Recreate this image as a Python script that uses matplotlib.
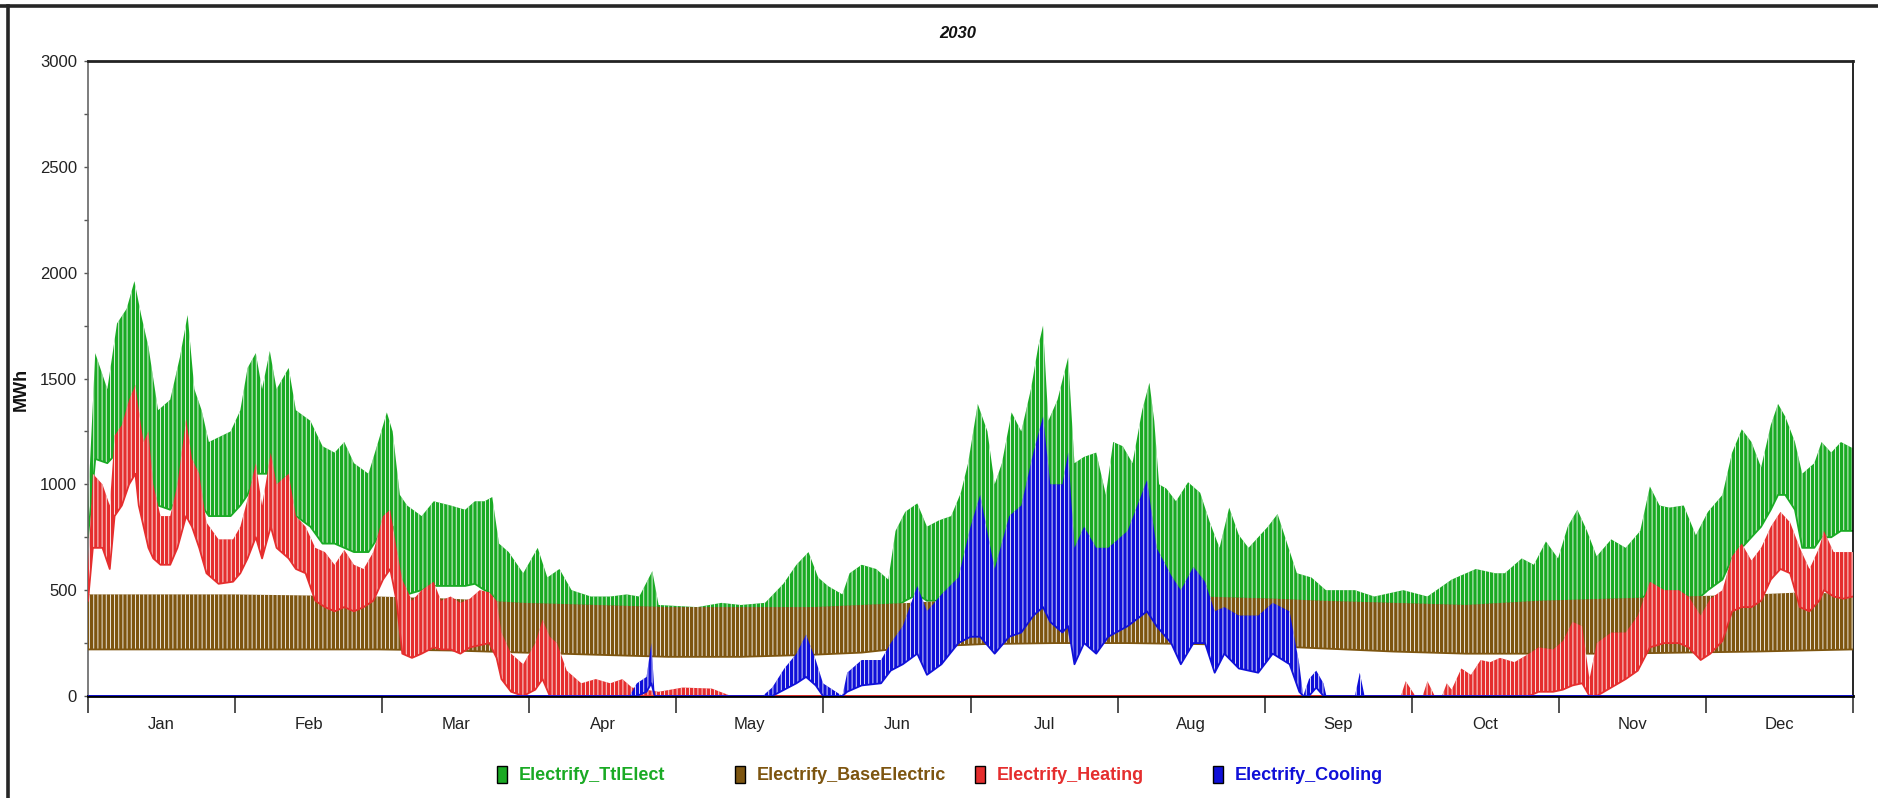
import numpy as np
import matplotlib.pyplot as plt
from matplotlib.patches import Rectangle
from matplotlib.lines import Line2D

# hourly load profile for 2030, read off the chart as daily high / low envelopes
# (day of year, daily high, daily low) for every series

months = ['Jan', 'Feb', 'Mar', 'Apr', 'May', 'Jun', 'Jul', 'Aug', 'Sep', 'Oct', 'Nov', 'Dec']
labels = ['Electrify_TtlElect', 'Electrify_BaseElectric', 'Electrify_Heating', 'Electrify_Cooling']

# Electrify_TtlElect
ttl_day = [0, 1.5, 4, 6, 8, 9.6, 11, 12.5, 14.5, 17, 19, 20.6, 22, 23.5, 25, 29.5, 31.5, 33, 34.7, 36,
           37.6, 39, 41.5, 43, 46, 48.5, 51, 53, 55, 58, 60, 61.8, 63, 64.5, 66, 69, 71.5, 75, 78, 80,
           82, 83.6, 85, 87, 90, 93, 95, 97.5, 100, 104, 108, 111.4, 114, 116.7, 118, 126, 131, 135, 140, 143.8,
           146.5, 149, 151, 153, 156, 157.5, 160, 163, 165.5, 167, 169, 171.5, 173.5, 176, 178.5, 180.5, 182, 184, 186, 187.5,
           189, 191, 193, 195, 196.5, 197.5, 198.6, 200.5, 202.7, 204, 206, 208.5, 210.5, 212, 214, 216, 218, 219.5, 220.5, 221.5,
           223, 225, 227.5, 230, 232, 234, 236, 238, 240, 242, 244, 246, 248, 250, 253, 256, 262, 266, 272, 277,
           282, 287, 291, 293, 296.5, 299, 301.5, 304, 306, 308, 310, 312, 315, 318, 321, 323, 325, 327, 330, 332.5,
           335, 338, 340, 342, 344, 346, 348, 349.5, 351, 353, 354.5, 357, 358.5, 360.5, 362.5, 365]
ttl_hi = [900, 1620, 1450, 1760, 1830, 1960, 1800, 1650, 1350, 1400, 1600, 1800, 1450, 1350, 1200, 1250, 1350, 1550, 1620, 1450,
          1630, 1450, 1550, 1350, 1300, 1180, 1150, 1200, 1100, 1050, 1200, 1340, 1250, 950, 900, 850, 920, 900, 880, 920,
          920, 940, 720, 680, 580, 700, 560, 600, 500, 470, 470, 480, 470, 590, 430, 420, 440, 430, 440, 530,
          620, 680, 560, 520, 480, 580, 620, 600, 550, 780, 870, 910, 800, 830, 850, 960, 1100, 1380, 1250, 1000,
          1100, 1340, 1250, 1450, 1650, 1750, 1300, 1400, 1600, 1100, 1130, 1150, 950, 1200, 1180, 1100, 1350, 1480, 1300, 1000,
          980, 920, 1010, 960, 820, 700, 890, 760, 700, 750, 800, 860, 720, 580, 560, 500, 500, 470, 500, 470,
          550, 600, 580, 580, 650, 620, 730, 650, 800, 880, 780, 660, 740, 700, 780, 990, 900, 890, 900, 760,
          870, 950, 1150, 1260, 1200, 1080, 1280, 1380, 1320, 1200, 1050, 1100, 1200, 1150, 1200, 1170]
ttl_lo = [750, 1120, 1100, 1150, 1200, 1250, 1000, 900, 900, 880, 950, 1050, 1000, 900, 850, 850, 900, 950, 1050, 1050,
          1050, 950, 900, 850, 800, 720, 720, 700, 680, 680, 750, 850, 800, 500, 480, 500, 520, 520, 520, 530,
          500, 480, 400, 380, 350, 350, 330, 330, 300, 280, 270, 270, 270, 300, 260, 250, 250, 250, 250, 270,
          330, 350, 330, 300, 280, 300, 320, 320, 350, 420, 450, 480, 450, 450, 460, 480, 500, 520, 520, 500,
          500, 520, 520, 540, 560, 560, 540, 540, 550, 520, 520, 520, 500, 520, 520, 520, 540, 560, 540, 500,
          480, 450, 460, 450, 400, 380, 420, 400, 380, 380, 400, 420, 380, 320, 300, 260, 260, 240, 240, 240,
          260, 270, 270, 280, 300, 300, 330, 320, 360, 380, 380, 350, 400, 400, 450, 500, 500, 480, 470, 450,
          500, 550, 650, 700, 750, 800, 880, 950, 950, 880, 700, 700, 750, 750, 780, 780]

# Electrify_BaseElectric
base_day = [0, 30, 60, 75, 90, 105, 120, 135, 150, 160, 170, 185, 200, 215, 230, 245, 255, 270, 285, 300,
            315, 330, 345, 355, 365]
base_hi = [480, 480, 470, 460, 440, 430, 420, 420, 420, 430, 440, 460, 460, 460, 470, 460, 450, 440, 430, 450,
           460, 470, 480, 490, 480]
base_lo = [220, 220, 220, 215, 205, 195, 185, 185, 195, 205, 230, 245, 250, 250, 245, 235, 225, 210, 200, 200,
           200, 205, 210, 215, 220]

# Electrify_Heating
heat_day = [0, 1, 3, 4.5, 5.5, 7, 8.5, 9.8, 10.5, 11.5, 12.5, 13.5, 15, 17, 18.5, 20.3, 21.5, 23, 24.5, 27,
            30, 31.5, 33, 34.7, 36, 37.8, 39, 41.5, 43, 45, 47, 49, 51, 53, 55, 57, 59, 61, 62.5, 63.8,
            65, 67, 69, 71.5, 73, 75, 77, 79, 81, 83, 84.5, 85.5, 87.5, 90, 92.5, 94, 95.5, 97, 99, 102,
            105, 108, 110.5, 112.5, 118, 123, 129, 133, 271.5, 272.5, 274.5, 276, 277, 278.5, 280, 281, 282, 284, 286, 288,
            290, 292, 295, 298, 300, 303, 305, 307, 309, 310.5, 312, 315, 318, 320.5, 323, 326, 329, 331, 333.5, 335.5,
            338, 340, 342, 344, 346, 348, 350, 352, 354, 356, 358, 359, 361, 363, 365]
heat_hi = [600, 1050, 1000, 900, 1230, 1280, 1400, 1470, 1350, 1200, 1250, 1000, 850, 850, 1000, 1310, 1120, 1050, 820, 740,
           740, 800, 930, 1100, 900, 1150, 1000, 1050, 850, 800, 700, 680, 620, 690, 620, 600, 680, 850, 880, 700,
           550, 450, 500, 540, 450, 470, 440, 460, 500, 490, 450, 300, 200, 150, 250, 360, 280, 250, 120, 60,
           80, 60, 80, 40, 20, 40, 35, 0, 0, 70, 0, 0, 70, 0, 0, 60, 30, 130, 100, 170,
           160, 180, 160, 200, 230, 220, 260, 350, 330, 80, 250, 300, 300, 380, 540, 500, 500, 470, 380, 460,
           500, 660, 720, 640, 700, 800, 870, 820, 700, 600, 700, 780, 680, 680, 680]
heat_lo = [450, 700, 700, 600, 850, 900, 1000, 1050, 900, 800, 700, 650, 620, 620, 700, 850, 800, 700, 580, 530,
           540, 580, 650, 750, 650, 800, 700, 650, 600, 580, 450, 420, 400, 420, 400, 420, 450, 550, 600, 450,
           200, 180, 200, 230, 220, 220, 200, 230, 240, 250, 180, 80, 20, 0, 30, 80, 0, 0, 0, 0,
           0, 0, 0, 0, 0, 0, 0, 0, 0, 0, 0, 0, 0, 0, 0, 0, 0, 0, 0, 0,
           0, 0, 0, 0, 20, 20, 30, 50, 60, 0, 0, 40, 80, 120, 230, 250, 250, 230, 170, 200,
           260, 400, 420, 420, 450, 550, 600, 580, 420, 400, 450, 500, 470, 460, 470]

# Electrify_Cooling
cool_day = [0, 112, 113.5, 115.5, 116.5, 117.2, 139.5, 141.5, 144, 146.5,
            148.5, 150.5, 152, 156, 157, 160, 164, 166, 168.5, 171.5,
            173.5, 176.5, 180, 182.5, 184.5, 187.5, 190.5, 193, 195.5, 197.5,
            199, 201.5, 202.7, 204, 206, 208.5, 211, 215, 219, 221,
            224, 226, 228.6, 231, 233, 235, 238, 242, 245, 248.5,
            250.5, 251.3, 252.5, 254, 255.5, 256.1, 262, 263, 264, 365]
cool_hi = [0, 0, 60, 90, 250, 0, 0, 40, 130, 200,
           290, 170, 60, 0, 110, 170, 170, 250, 330, 520,
           400, 480, 560, 800, 950, 600, 850, 900, 1150, 1320,
           1000, 1000, 1150, 700, 800, 700, 700, 780, 1020, 700,
           570, 500, 610, 540, 400, 420, 380, 380, 440, 400,
           150, 0, 80, 120, 60, 0, 0, 110, 0, 0]
cool_lo = [0, 0, 0, 20, 60, 0, 0, 0, 30, 60,
           90, 50, 0, 0, 20, 50, 60, 120, 150, 200,
           100, 150, 250, 280, 280, 200, 280, 300, 380, 420,
           350, 300, 330, 150, 250, 200, 280, 330, 400, 330,
           250, 150, 250, 250, 110, 200, 130, 110, 200, 150,
           20, 0, 0, 40, 0, 0, 0, 0, 0, 0]

colors = ['#1aaa24', '#7d5510', '#e52e2e', '#1010d8']

plt.rcParams['font.family'] = ['Liberation Sans Narrow', 'Liberation Sans', 'DejaVu Sans']
plt.rcParams['hatch.color'] = 'white'
plt.rcParams['hatch.linewidth'] = 0.6

W, H = 1878, 798
fig = plt.figure(figsize=(W / 100, H / 100), dpi=100)
ax = fig.add_axes([88 / W, 102 / H, 1765 / W, 635 / H])

# green first, blue on top - same stacking as the original
series = [(ttl_day, ttl_lo, ttl_hi), (base_day, base_lo, base_hi),
          (heat_day, heat_lo, heat_hi), (cool_day, cool_lo, cool_hi)]
for i, (d, lo, hi) in enumerate(series):
    ax.fill_between(d, lo, hi, facecolor=colors[i], edgecolor='white', linewidth=0,
                    hatch='||||', zorder=2 + i)
    ax.plot(d, lo, color=colors[i], lw=1.3, zorder=2 + i)

ax.set_xlim(0, 365)
ax.set_ylim(0, 3000)

bounds = np.arange(13) * 365 / 12
ax.set_xticks(bounds)
ax.set_xticklabels([])
ax.set_xticks(bounds[:-1] + 365 / 24, minor=True)
ax.set_xticklabels(months, minor=True)
ax.tick_params(axis='x', which='major', length=12, width=1.2, direction='out', color='#333333')
ax.tick_params(axis='x', which='minor', length=0, pad=15, labelsize=12, labelcolor='#222222')

ax.set_yticks(np.arange(0, 3001, 500))
ax.set_yticks(np.arange(250, 3000, 500), minor=True)
ax.tick_params(axis='y', which='both', length=3, width=1, color='#555555', pad=5,
               labelsize=12, labelcolor='#222222')

ax.spines['top'].set_linewidth(2)
ax.spines['top'].set_color('#222222')
ax.spines['bottom'].set_linewidth(2)
ax.spines['bottom'].set_color('black')
ax.spines['left'].set_linewidth(1.2)
ax.spines['left'].set_color('#666666')
ax.spines['right'].set_linewidth(1.2)
ax.spines['right'].set_color('black')

fig.text(958 / W, 1 - 33 / H, '2030', ha='center', va='center', fontsize=12,
         fontweight='bold', fontstyle='italic', color='#111111')
fig.text(21.5 / W, 1 - 389 / H, 'MWh', rotation=90, ha='center', va='center', fontsize=13,
         fontweight='bold', family=['Liberation Sans', 'DejaVu Sans'], color='#111111')

# outer frame of the original window (top and left edges only)
fig.add_artist(Line2D([0, 1], [1 - 6 / H, 1 - 6 / H], color='#262626', lw=2.6, transform=fig.transFigure))
fig.add_artist(Line2D([8 / W, 8 / W], [0, 1 - 6 / H], color='#262626', lw=2.6, transform=fig.transFigure))

# legend along the bottom
leg_x = [497, 735, 975, 1213]
for i, name in enumerate(labels):
    fig.add_artist(Rectangle((leg_x[i] / W, (H - 783) / H), 10 / W, 17 / H, transform=fig.transFigure,
                             facecolor=colors[i], edgecolor='black', lw=1))
    fig.text((leg_x[i] + 22) / W, (H - 775) / H, name, ha='left', va='center', fontsize=13,
             fontweight='bold', color=colors[i])

fig.savefig('out.png', dpi=100, facecolor='white')
